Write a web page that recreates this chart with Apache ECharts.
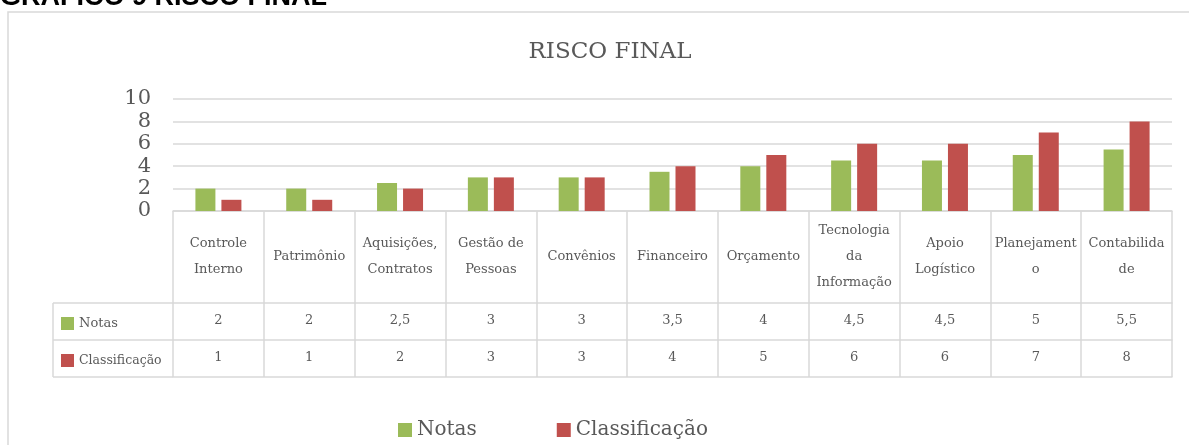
<!DOCTYPE html>
<html lang="pt">
<head>
<meta charset="UTF-8">
<title>Risco Final</title>
<script src="https://cdn.jsdelivr.net/npm/echarts@6/dist/echarts.min.js"></script>
<style>
    * { padding: 0; margin: 0; }
    body { background: #fff; }
</style>
</head>
<body>
<div id="risco_final" style="width:1189px;height:445px;"></div>
<script>
    // dados
    var categorias = ['Controle\nInterno', 'Patrimônio', 'Aquisições,\nContratos', 'Gestão de\nPessoas', 'Convênios',
        'Financeiro', 'Orçamento', 'Tecnologia\nda\nInformação', 'Apoio\nLogístico', 'Planejament\no', 'Contabilida\nde'];
    var notas = [2, 2, 2.5, 3, 3, 3.5, 4, 4.5, 4.5, 5, 5.5];
    var classificacao = [1, 1, 2, 3, 3, 4, 5, 6, 6, 7, 8];
    var yTicks = [0, 2, 4, 6, 8, 10];

    var serif = '"DejaVu Serif", serif';
    var cinza = '#595959';
    var linha = '#d9d9d9';
    var fmt = v => String(v).replace('.', ',');

    var chart = echarts.init(document.getElementById('risco_final'));

    // eixos x empilhados que fazem a tabela de dados
    function linhaTabela(dados, offset, margin, mostraLabel) {
        return {
            type: 'category',
            position: 'bottom',
            offset: offset,
            data: dados,
            axisLine: {show: true, lineStyle: {color: linha, width: 1.5}},
            axisTick: {show: false},
            axisLabel: {
                show: mostraLabel, interval: 0, margin: margin, verticalAlign: 'middle',
                color: cinza, fontFamily: serif, fontSize: 13
            }
        };
    }

    var option = {
        animation: false,
        title: {
            text: 'RISCO FINAL',
            left: 605, top: 36, textAlign: 'center',
            textStyle: {color: cinza, fontFamily: serif, fontWeight: 'normal', fontSize: 23}
        },
        legend: [{
            data: ['Notas', 'Classificação'],
            left: 393, top: 415, icon: 'rect', itemWidth: 14, itemHeight: 14, itemGap: 80,
            textStyle: {color: cinza, fontFamily: serif, fontSize: 20}
        }, {
            data: ['Notas'], left: 56, top: 312, icon: 'rect', itemWidth: 13, itemHeight: 13,
            textStyle: {color: cinza, fontFamily: serif, fontSize: 13}
        }, {
            data: ['Classificação'], left: 56, top: 349, icon: 'rect', itemWidth: 13, itemHeight: 13,
            textStyle: {color: cinza, fontFamily: serif, fontSize: 12.5}
        }],
        grid: {left: 173, right: 17, top: 99, bottom: 234},
        xAxis: [{
            type: 'category',
            data: categorias,
            axisLine: {show: true, lineStyle: {color: linha, width: 1.5}},
            axisTick: {show: true, interval: 0, length: 166, lineStyle: {color: linha, width: 1.5}},
            axisLabel: {
                interval: 0, margin: 46, verticalAlign: 'middle', lineHeight: 26,
                color: cinza, fontFamily: serif, fontSize: 13
            }
        },
            linhaTabela(notas.map(fmt), 92, 18, true),
            linhaTabela(classificacao.map(fmt), 129, 18, true),
            linhaTabela(categorias, 166, 10, false)
        ],
        yAxis: {
            type: 'value', min: yTicks[0], max: yTicks[yTicks.length - 1], interval: 2,
            axisLine: {show: false}, axisTick: {show: false},
            axisLabel: {margin: 22, color: cinza, fontFamily: serif, fontSize: 21},
            splitLine: {lineStyle: {color: linha, width: 1.5}}
        },
        series: [{
            name: 'Notas', type: 'bar', data: notas, barWidth: 20, barGap: '30%',
            itemStyle: {color: '#9bbb59'}
        }, {
            name: 'Classificação', type: 'bar', data: classificacao, barWidth: 20,
            itemStyle: {color: '#c0504d'}
        }],
        graphic: [
            {type: 'rect', shape: {x: 8, y: 12, width: 1200, height: 500}, style: {fill: 'none', stroke: linha, lineWidth: 1.5}},
            {type: 'line', shape: {x1: 53, y1: 303, x2: 173, y2: 303}, style: {stroke: linha, lineWidth: 1.5}},
            {type: 'line', shape: {x1: 53, y1: 340, x2: 173, y2: 340}, style: {stroke: linha, lineWidth: 1.5}},
            {type: 'line', shape: {x1: 53, y1: 377, x2: 173, y2: 377}, style: {stroke: linha, lineWidth: 1.5}},
            {type: 'line', shape: {x1: 53, y1: 303, x2: 53, y2: 377}, style: {stroke: linha, lineWidth: 1.5}},
            {type: 'text', x: 0, y: 11, style: {text: 'GRÁFICO 9 RISCO FINAL', fill: '#000', verticalAlign: 'bottom', font: 'bold 27px "Liberation Sans", sans-serif'}}
        ]
    };
    chart.setOption(option);
</script>
</body>
</html>
